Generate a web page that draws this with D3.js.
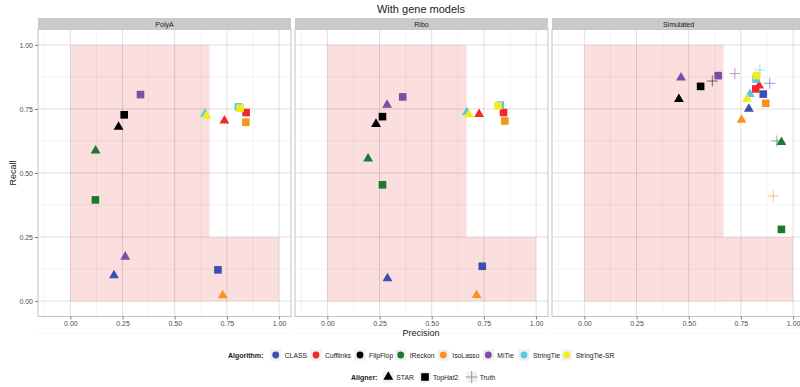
<!DOCTYPE html>
<html>
  <head>
    <meta charset="utf-8">
    <title>With gene models</title>
    <script src="https://d3js.org/d3.v7.min.js"></script>
    <style>
      body { margin: 0; background: #fff; }
      text { font-family: "Liberation Sans", Arial, sans-serif; }
    </style>
  </head>
  <body>
    <script>

      // ---- data ----
      var panels = ["PolyA", "Ribo", "Simulated"];
      var algorithms = ["CLASS", "Cufflinks", "FlipFlop", "IReckon", "IsoLasso", "MiTie", "StringTie", "StringTie-SR"];
      var algColors = ["#3b4fb2", "#ee2a2a", "#000000", "#1c7a2f", "#f7931e", "#7c4ea5", "#5cc6e6", "#eded20"];
      var aligners = ["STAR", "TopHat2", "Truth"];
      var xTicks = [0, 0.25, 0.5, 0.75, 1];
      var yTicks = [0, 0.25, 0.5, 0.75, 1];

      // [algorithm, aligner, precision, recall]
      var polyA = [
        ["CLASS", "STAR", 0.209, 0.100], ["CLASS", "TopHat2", 0.707, 0.122],
        ["Cufflinks", "STAR", 0.738, 0.704], ["Cufflinks", "TopHat2", 0.842, 0.736],
        ["FlipFlop", "STAR", 0.231, 0.680], ["FlipFlop", "TopHat2", 0.258, 0.727],
        ["IReckon", "STAR", 0.121, 0.587], ["IReckon", "TopHat2", 0.120, 0.395],
        ["IsoLasso", "STAR", 0.730, 0.022], ["IsoLasso", "TopHat2", 0.841, 0.698],
        ["MiTie", "STAR", 0.263, 0.173], ["MiTie", "TopHat2", 0.336, 0.806],
        ["StringTie", "STAR", 0.645, 0.731], ["StringTie", "TopHat2", 0.805, 0.758],
        ["StringTie-SR", "STAR", 0.652, 0.724], ["StringTie-SR", "TopHat2", 0.813, 0.753]
      ];
      var ribo = [
        ["CLASS", "STAR", 0.288, 0.089], ["CLASS", "TopHat2", 0.742, 0.136],
        ["Cufflinks", "STAR", 0.727, 0.730], ["Cufflinks", "TopHat2", 0.844, 0.736],
        ["FlipFlop", "STAR", 0.233, 0.691], ["FlipFlop", "TopHat2", 0.264, 0.720],
        ["IReckon", "STAR", 0.195, 0.556], ["IReckon", "TopHat2", 0.264, 0.454],
        ["IsoLasso", "STAR", 0.715, 0.023], ["IsoLasso", "TopHat2", 0.850, 0.703],
        ["MiTie", "STAR", 0.286, 0.766], ["MiTie", "TopHat2", 0.361, 0.797],
        ["StringTie", "STAR", 0.668, 0.737], ["StringTie", "TopHat2", 0.828, 0.765],
        ["StringTie-SR", "STAR", 0.678, 0.729], ["StringTie-SR", "TopHat2", 0.818, 0.762]
      ];
      var simulated = [
        ["CLASS", "STAR", 0.788, 0.750], ["CLASS", "TopHat2", 0.857, 0.808], ["CLASS", "Truth", 0.888, 0.850],
        ["Cufflinks", "STAR", 0.837, 0.841], ["Cufflinks", "TopHat2", 0.821, 0.828],
        ["FlipFlop", "STAR", 0.453, 0.788], ["FlipFlop", "TopHat2", 0.557, 0.838], ["FlipFlop", "Truth", 0.613, 0.859],
        ["IReckon", "STAR", 0.944, 0.620], ["IReckon", "TopHat2", 0.944, 0.280], ["IReckon", "Truth", 0.922, 0.625],
        ["IsoLasso", "STAR", 0.753, 0.707], ["IsoLasso", "TopHat2", 0.869, 0.772], ["IsoLasso", "Truth", 0.905, 0.410],
        ["MiTie", "STAR", 0.463, 0.872], ["MiTie", "TopHat2", 0.641, 0.880], ["MiTie", "Truth", 0.721, 0.888],
        ["StringTie", "STAR", 0.793, 0.808], ["StringTie", "TopHat2", 0.822, 0.867], ["StringTie", "Truth", 0.841, 0.902],
        ["StringTie-SR", "STAR", 0.780, 0.789], ["StringTie-SR", "TopHat2", 0.825, 0.880]
      ];
      var panelData = [polyA, ribo, simulated];

      // shaded "poor" regions: [x0, x1, y0, y1]
      var shaded = [[0, 0.667, 0, 1], [0, 1, 0, 0.25]];

      // ---- layout ----
      var W = 800, H = 387;
      var panelLeft = [38, 295, 552], panelW = 253;
      var stripTop = 18, panelTop = 29.5, panelBottom = 316.5;

      var color = d3.scaleOrdinal().domain(algorithms).range(algColors);
      var y = d3.scaleLinear().domain([-0.06, 1.06]).range([panelBottom, panelTop]);

      var svg = d3.select("body").append("svg")
        .attr("width", W)
        .attr("height", H);

      svg.append("text")
        .attr("x", 421).attr("y", 13)
        .attr("text-anchor", "middle")
        .attr("font-size", 11).attr("fill", "#222")
        .text("With gene models");

      function symbolPath(aligner) {
        if (aligner === "STAR") return d3.symbol(d3.symbolTriangle, 42)();
        if (aligner === "TopHat2") return d3.symbol(d3.symbolSquare, 58)();
        return "M-5.5,0H5.5M0,-5.5V5.5";
      }

      panels.forEach(function(name, i) {
        var x = d3.scaleLinear().domain([-0.155, 1.057]).range([panelLeft[i], panelLeft[i] + panelW]);
        var g = svg.append("g");

        g.append("rect")
          .attr("x", x.range()[0]).attr("y", panelTop)
          .attr("width", panelW).attr("height", panelBottom - panelTop)
          .attr("fill", "#fff");

        // shaded regions (opaque, so overlaps stay one tone)
        g.selectAll(".shade").data(shaded).enter().append("rect")
          .attr("x", function(d) { return x(d[0]); })
          .attr("width", function(d) { return x(d[1]) - x(d[0]); })
          .attr("y", function(d) { return y(d[3]); })
          .attr("height", function(d) { return y(d[2]) - y(d[3]); })
          .attr("fill", "#fbdfdf");

        // minor grid
        var minor = [-0.125, 0.125, 0.375, 0.625, 0.875];
        g.selectAll(".vmin").data(minor).enter().append("line")
          .attr("x1", x).attr("x2", x).attr("y1", panelTop).attr("y2", panelBottom)
          .attr("stroke", "rgba(0,0,0,0.06)").attr("stroke-width", 0.8);
        g.selectAll(".hmin").data(minor).enter().append("line")
          .attr("x1", x.range()[0]).attr("x2", x.range()[1]).attr("y1", y).attr("y2", y)
          .attr("stroke", "rgba(0,0,0,0.06)").attr("stroke-width", 0.8);
        // major grid
        g.selectAll(".vmaj").data(xTicks).enter().append("line")
          .attr("x1", x).attr("x2", x).attr("y1", panelTop).attr("y2", panelBottom)
          .attr("stroke", "rgba(0,0,0,0.12)").attr("stroke-width", 1);
        g.selectAll(".hmaj").data(yTicks).enter().append("line")
          .attr("x1", x.range()[0]).attr("x2", x.range()[1]).attr("y1", y).attr("y2", y)
          .attr("stroke", "rgba(0,0,0,0.12)").attr("stroke-width", 1);

        // points
        g.selectAll(".pt").data(panelData[i]).enter().append("path")
          .attr("transform", function(d) { return "translate(" + x(d[2]) + "," + y(d[3]) + ")"; })
          .attr("d", function(d) { return symbolPath(d[1]); })
          .attr("fill", function(d) { return d[1] === "Truth" ? "none" : color(d[0]); })
          .attr("stroke", function(d) { return d[1] === "Truth" ? color(d[0]) : "none"; })
          .attr("stroke-opacity", 0.55)
          .attr("stroke-width", 1);

        // border
        g.append("rect")
          .attr("x", x.range()[0]).attr("y", panelTop)
          .attr("width", panelW).attr("height", panelBottom - panelTop)
          .attr("fill", "none").attr("stroke", "#c4c4c4").attr("stroke-width", 1);

        // strip
        g.append("rect")
          .attr("x", x.range()[0]).attr("y", stripTop)
          .attr("width", panelW).attr("height", panelTop - stripTop)
          .attr("fill", "#cacaca");
        g.append("text")
          .attr("x", x.range()[0] + panelW / 2).attr("y", stripTop + 8.6)
          .attr("text-anchor", "middle").attr("font-size", 7).attr("fill", "#1a1a1a")
          .text(name);

        // x axis
        var xa = g.append("g")
          .attr("transform", "translate(0," + panelBottom + ")")
          .call(d3.axisBottom(x).tickValues(xTicks).tickSize(3).tickPadding(2).tickFormat(d3.format(".2f")));
        xa.select(".domain").remove();
        xa.selectAll("line").attr("stroke", "#7f7f7f");
        xa.selectAll("text").attr("font-size", 7).style("fill", "#4d4d4d");

        if (i === 0) {
          var ya = g.append("g")
            .attr("transform", "translate(" + panelLeft[0] + ",0)")
            .call(d3.axisLeft(y).tickValues(yTicks).tickSize(3).tickPadding(2).tickFormat(d3.format(".2f")));
          ya.select(".domain").remove();
          ya.selectAll("line").attr("stroke", "#7f7f7f");
          ya.selectAll("text").attr("font-size", 7).style("fill", "#4d4d4d");
        }
      });

      // axis titles
      svg.append("text")
        .attr("x", 421).attr("y", 336)
        .attr("text-anchor", "middle").attr("font-size", 9).attr("fill", "#1a1a1a")
        .text("Precision");
      svg.append("text")
        .attr("transform", "translate(16,173) rotate(-90)")
        .attr("text-anchor", "middle").attr("font-size", 9).attr("fill", "#1a1a1a")
        .text("Recall");

      // ---- legends ----
      var keySize = 12;
      var algKeyX = [275.7, 316, 360, 400.7, 443.3, 488.3, 524, 566.7];
      var lg1 = svg.append("g").attr("transform", "translate(0,355)");
      lg1.append("text").attr("x", 228).attr("y", 2.5)
        .attr("font-size", 7).attr("font-weight", "bold").attr("fill", "#1a1a1a")
        .text("Algorithm:");
      var k1 = lg1.selectAll(".k").data(algorithms).enter().append("g")
        .attr("transform", function(d, i) { return "translate(" + algKeyX[i] + ",0)"; });
      k1.append("rect").attr("x", -keySize / 2).attr("y", -keySize / 2)
        .attr("width", keySize).attr("height", keySize)
        .attr("fill", "#f0f0f0").attr("stroke", "#fff");
      k1.append("circle").attr("r", 3.4).attr("fill", function(d) { return color(d); });
      k1.append("text").attr("x", 9).attr("y", 2.5)
        .attr("font-size", 6.8).attr("fill", "#1a1a1a")
        .text(function(d) { return d; });

      var alnKeyX = [388.3, 425, 471.7];
      var lg2 = svg.append("g").attr("transform", "translate(0,377)");
      lg2.append("text").attr("x", 351).attr("y", 2.5)
        .attr("font-size", 7).attr("font-weight", "bold").attr("fill", "#1a1a1a")
        .text("Aligner:");
      var k2 = lg2.selectAll(".k").data(aligners).enter().append("g")
        .attr("transform", function(d, i) { return "translate(" + alnKeyX[i] + ",0)"; });
      k2.append("rect").attr("x", -keySize / 2).attr("y", -keySize / 2)
        .attr("width", keySize).attr("height", keySize)
        .attr("fill", "#f0f0f0").attr("stroke", "#fff");
      k2.append("path")
        .attr("d", function(d) { return d === "Truth" ? "M-6,0H6M0,-6V6" : symbolPath(d); })
        .attr("fill", function(d) { return d === "Truth" ? "none" : "#000"; })
        .attr("stroke", function(d) { return d === "Truth" ? "#9a9a9a" : "none"; });
      k2.append("text").attr("x", 8).attr("y", 2.5)
        .attr("font-size", 6.8).attr("fill", "#1a1a1a")
        .text(function(d) { return d; });

    </script>
  </body>
</html>
